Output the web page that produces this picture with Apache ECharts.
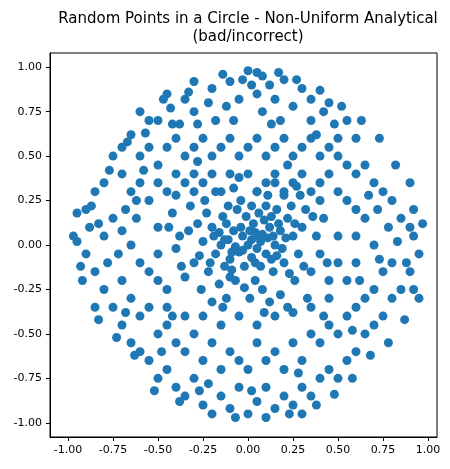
<!DOCTYPE html>
<html><head><meta charset="utf-8">
<script src="https://cdn.jsdelivr.net/npm/echarts@6/dist/echarts.min.js"></script>
<style>html,body{margin:0;padding:0;background:#fff}#c{width:450px;height:469px}</style>
</head><body><div id="c"></div>
<script>
const titleText = "Random Points in a Circle - Non-Uniform Analytical\n(bad/incorrect)";
const tickValues = [-1, -0.75, -0.5, -0.25, 0, 0.25, 0.5, 0.75, 1];
const outerPoints = [
[0,0.98],[0.05,0.97],[0.08,0.95],[-0.03,0.93],[0.12,0.9],[0.2,0.93],[-0.1,0.92],[-0.2,0.88],[-0.22,0.8],[-0.35,0.82],[-0.45,0.85],[-0.47,0.82],[0.3,0.88],[0.35,0.82],[0.42,0.75],[0.45,0.8],[0.15,0.82],[-0.05,0.82],[0.05,0.85],[-0.12,0.78],[0.25,0.78],[-0.3,0.75],[-0.55,0.7],[-0.6,0.75],[-0.5,0.7],[0.55,0.7],[0.6,0.6],[0.08,0.75],[0.18,0.7],[-0.18,0.7],[-0.42,0.68],[0.35,0.7],[-0.28,0.68],
[-0.75,0.5],[-0.7,0.55],[-0.65,0.62],[-0.8,0.35],[-0.85,0.3],[-0.9,0.2],[-0.95,0.18],[-0.88,0.1],[-0.6,0.5],[-0.55,0.55],[-0.5,0.45],[-0.45,0.55],[-0.4,0.6],[-0.35,0.5],[-0.3,0.55],[-0.25,0.6],[-0.2,0.5],[-0.15,0.55],[-0.1,0.6],[-0.05,0.5],[0,0.55],[0.05,0.6],[0.1,0.5],[0.15,0.55],[0.2,0.6],[0.25,0.5],[0.3,0.55],[0.35,0.6],[0.4,0.5],[0.45,0.55],[0.5,0.5],[0.55,0.45],[0.6,0.4],[0.65,0.45],[0.7,0.35],[0.75,0.3],[0.8,0.25],[0.72,0.2],[0.85,0.15],[0.9,0.1],[0.92,0.05],[0.95,-0.05],[0.88,-0.1],
[-0.7,0.4],[-0.65,0.3],[-0.6,0.35],[-0.55,0.25],[-0.5,0.35],[-0.45,0.3],[-0.4,0.4],[-0.35,0.35],[-0.3,0.4],[-0.25,0.35],[-0.2,0.4],[-0.15,0.3],[-0.1,0.4],[0,0.4],[0.05,0.3],[0.1,0.35],[0.15,0.4],[0.2,0.3],[0.25,0.35],[0.3,0.4],[0.35,0.3],[0.4,0.35],[0.45,0.4],[0.5,0.3],[0.55,0.25],[0.6,0.2],[0.65,0.15],[0.5,0.6],[-0.68,0.2],[-0.75,0.15],[-0.8,0.05],[-0.7,0.08],[-0.62,0.15],
[-0.9,-0.05],[-0.95,0.02],[-0.85,-0.15],[-0.8,-0.25],[-0.75,-0.35],[-0.85,-0.35],[-0.7,-0.45],[-0.65,-0.55],[-0.6,-0.6],[-0.55,-0.65],[-0.5,-0.75],[-0.45,-0.7],[-0.4,-0.8],[-0.35,-0.85],[-0.3,-0.75],[-0.25,-0.9],[-0.2,-0.95],[-0.15,-0.85],[-0.1,-0.92],[-0.05,-0.8],[0,-0.95],[0.05,-0.88],[0.1,-0.8],[0.15,-0.92],[0.2,-0.85],[0.25,-0.9],[0.3,-0.8],[0.35,-0.85],[0.4,-0.75],[0.45,-0.7],[0.5,-0.75],[0.55,-0.65],[0.6,-0.6],[0.65,-0.5],[0.7,-0.45],[0.75,-0.4],[0.8,-0.3],[0.85,-0.25],[0.9,-0.15],[0.92,-0.25],
[-0.7,-0.2],[-0.65,-0.3],[-0.6,-0.4],[-0.55,-0.35],[-0.5,-0.5],[-0.45,-0.45],[-0.4,-0.55],[-0.35,-0.6],[-0.3,-0.5],[-0.25,-0.65],[-0.2,-0.55],[-0.15,-0.7],[-0.1,-0.6],[-0.05,-0.65],[0,-0.7],[0.05,-0.55],[0.1,-0.65],[0.15,-0.6],[0.2,-0.7],[0.25,-0.55],[0.3,-0.65],[0.35,-0.5],[0.4,-0.55],[0.45,-0.45],[0.5,-0.5],[0.55,-0.4],[0.6,-0.35],[0.65,-0.3],[0.7,-0.25],[0.75,-0.15],[0.8,-0.1],[0.6,-0.1],[0.55,-0.2],[-0.6,-0.1],[-0.55,-0.15],[-0.5,-0.2],[-0.45,-0.35],[-0.35,-0.4],[-0.25,-0.4],[-0.15,-0.45],[-0.05,-0.4],[0.05,-0.45],[0.15,-0.4],[0.25,-0.38],[0.35,-0.35],[0.45,-0.3],[0.5,-0.1],[0.5,0.05],[-0.5,0.1],[-0.5,-0.05],[0.6,0.05],[0.7,0.0],[-0.65,0.0],[0.78,0.1],[-0.78,-0.1],[0.3,-0.95],[-0.3,0.92],[0.92,0.2],[-0.92,-0.2],
[-0.97,0.05],[-0.93,-0.12],[-0.87,0.22],[-0.83,-0.42],[-0.77,0.42],[-0.73,-0.52],[-0.67,0.58],[-0.63,-0.62],[-0.57,0.63],[-0.52,-0.82],[-0.43,0.77],[-0.38,-0.88],[-0.33,0.86],[-0.27,-0.82],[-0.14,0.96],[-0.07,-0.97],[0.02,0.9],[0.1,-0.97],[0.17,0.97],[0.23,-0.95],[0.27,0.93],[0.38,-0.9],[0.4,0.87],[0.48,-0.84],[0.52,0.78],[0.58,-0.75],[0.63,0.7],[0.68,-0.62],[0.73,0.6],[0.78,-0.55],[0.82,0.45],[0.87,-0.42],[0.9,0.35],[0.95,-0.3],[0.97,0.12],[0.83,0.02],[-0.83,0.12],[0.73,-0.08],[-0.72,-0.05],[0.67,0.28],[-0.68,-0.38],[0.58,-0.48],[-0.58,0.42],[0.48,0.68],[-0.48,-0.6],[0.38,0.62],[-0.38,0.68],[0.28,-0.72],[-0.22,-0.78],[0.13,0.68],[-0.08,0.7],[0.02,-0.82],[0.22,0.45],[-0.28,0.47],[0.42,-0.4],[-0.42,-0.4],[0.62,-0.2],[-0.62,0.25]
];
const innerPoints = [
[0,0],[0.02,0.03],[-0.03,0.05],[0.05,-0.02],[-0.05,-0.04],[0.08,0.06],[-0.08,0.08],[0.1,-0.05],[-0.1,-0.08],[0.12,0.1],[-0.12,0.12],[0.15,0],[-0.15,0],[0.18,0.08],[-0.18,-0.05],[0.2,-0.1],[-0.2,0.1],[0.03,0.12],[-0.02,-0.12],[0.06,0.18],[-0.06,0.2],[0.1,0.22],[-0.1,-0.18],[0.14,-0.15],[-0.14,0.16],[0.22,0.15],[-0.22,-0.15],[0.25,0.05],[-0.25,0.02],[0.04,-0.2],[-0.04,0.25],[0.08,-0.25],[0.16,0.2],[-0.16,-0.22],[0.28,-0.05],[-0.28,0.12],[0.3,0.1],[-0.3,-0.1],[0.01,0.08],[0.07,0.02],[-0.07,-0.01],[0.11,0.04],[-0.11,0.03],[0.02,-0.07],[-0.01,0.16],[0.13,-0.08],[-0.13,-0.12],[0.19,-0.02],[-0.19,0.05],[0.24,0.22],[-0.24,0.25],[0.26,-0.2],[-0.26,-0.25],[0.32,0.2],[-0.32,0.22],[0.35,-0.15],[-0.35,-0.18],[0.38,0.05],[-0.38,0.05],[0.4,-0.05],[-0.4,-0.02],[0.42,0.15],[-0.42,0.18],[0.45,-0.2],[-0.45,-0.25],[0.05,0.3],[-0.08,0.32],[0.12,-0.32],[-0.12,-0.3],[0.2,0.28],[0.18,-0.28],[-0.2,-0.32],[0.09,0.14],[-0.09,-0.14],[0.17,0.12],[-0.03,-0.03],[0.04,0.07],[0.29,0.28],[0.33,-0.3],
[0.06,0.05],[-0.04,0.1],[0.13,0.16],[-0.16,0.07],[0.21,0.04],[-0.21,-0.1],[0.07,-0.12],[-0.07,-0.2],[0.16,-0.06],[-0.11,0.22],[0.23,-0.16],[-0.27,-0.06],[0.31,-0.12],[-0.33,0.08],[0.02,0.22],[-0.02,-0.24],[0.11,0.28],[-0.14,-0.35],[0.26,0.12],[-0.23,0.18],[0.36,0.16],[-0.37,-0.12],[0.15,0.35],[-0.18,0.3],[0.09,-0.38],[-0.05,0.38],[0.22,-0.35],[0.27,0.33],[-0.3,0.3],[0.4,0.25],[-0.4,0.28],[0.44,-0.1],[-0.44,0.1],[0.01,-0.3],[0.14,0.05],[-0.09,-0.04],[0.04,-0.1],[-0.13,0.03]
];
const points = outerPoints.concat(innerPoints);
const axisCommon = {
  type: 'value',
  axisLine: { show: true, onZero: false, lineStyle: { color: '#000' } },
  axisTick: { show: true, length: 4, customValues: tickValues, lineStyle: { color: '#000' } },
  axisLabel: { customValues: tickValues, color: '#000', fontSize: 11, fontFamily: 'DejaVu Sans', formatter: v => v.toFixed(2) },
  splitLine: { show: false }
};
const chart = echarts.init(document.getElementById('c'));
chart.setOption({
  animation: false,
  title: { text: titleText, left: 243, top: 5, textAlign: 'center',
    textStyle: { fontSize: 15, fontWeight: 'normal', color: '#000', fontFamily: 'DejaVu Sans', lineHeight: 18 } },
  grid: { left: 50, right: 13, top: 53, bottom: 32, show: true, borderColor: '#000', borderWidth: 1 },
  xAxis: Object.assign({}, axisCommon, { min: -1.1, max: 1.05 }),
  yAxis: Object.assign({}, axisCommon, { min: -1.08, max: 1.08 }),
  series: [{ type: 'scatter', data: points, symbolSize: 9, itemStyle: { color: '#1f77b4', opacity: 1 } }]
});
</script></body></html>
